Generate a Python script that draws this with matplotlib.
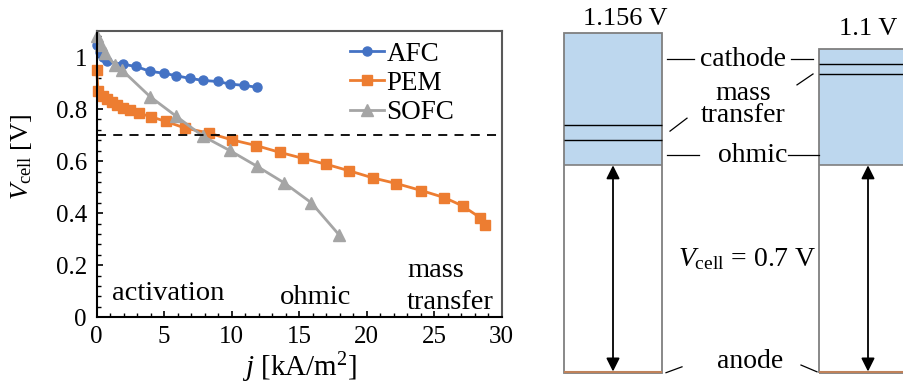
import numpy as np
import matplotlib
matplotlib.use("Agg")
import matplotlib.pyplot as plt
from matplotlib.ticker import MultipleLocator

plt.rcParams['font.family'] = ['Liberation Serif', 'DejaVu Serif']
plt.rcParams['mathtext.fontset'] = 'custom'
plt.rcParams['mathtext.rm'] = 'Liberation Serif'
plt.rcParams['mathtext.it'] = 'Liberation Serif:italic'

# polarization curves (j in kA/m2, V in volt)
afc_j = [0, 0.25, 0.5, 0.8, 1.95, 2.9, 3.95, 4.95, 5.9, 6.9, 7.9, 8.95, 9.9, 10.9, 11.85]
afc_v = [1.045, 1.02, 1.0, 0.983, 0.972, 0.964, 0.945, 0.938, 0.928, 0.918, 0.91, 0.906, 0.896, 0.891, 0.884]

pem_j = [0, 0.1, 0.45, 0.8, 1.1, 1.5, 1.95, 2.5, 3.1, 4.05, 5.1, 6.55, 8.3, 10.0, 11.8,
         13.55, 15.25, 17.0, 18.7, 20.5, 22.2, 24.05, 25.75, 27.1, 28.4, 28.75]
pem_v = [0.951, 0.868, 0.852, 0.838, 0.829, 0.817, 0.804, 0.795, 0.785, 0.770, 0.753, 0.727, 0.708, 0.682, 0.660,
         0.634, 0.611, 0.588, 0.563, 0.535, 0.514, 0.487, 0.460, 0.428, 0.383, 0.355]

sofc_j = [0, 0.3, 0.6, 1.35, 1.85, 3.95, 5.9, 7.9, 9.85, 11.85, 13.9, 15.9, 17.95]
sofc_v = [1.08, 1.045, 1.015, 0.970, 0.951, 0.848, 0.772, 0.695, 0.641, 0.581, 0.516, 0.440, 0.317]

v_operating = 0.7

# loss breakdown at 0.7 V, bottom to top: anode, cell voltage, ohmic, mass transfer, cathode
left_stack = [0.006, 0.7, 0.086, 0.050, 0.314]
right_stack = [0.006, 0.7, 0.309, 0.034, 0.051]
ocv_labels = ['1.156 V', '1.1 V']

blue = '#4472C4'
orange = '#ED7D31'
grey = '#A5A5A5'
light_blue = '#BDD7EE'
brown = '#C0825A'

fig = plt.figure(figsize=(9.04, 3.84), dpi=100)

# ---------------- left: polarization curves ----------------
ax = fig.add_axes([96.7/904, 1 - 317.3/384, 405/904, 286.3/384])
ax.plot(afc_j, afc_v, '-o', color=blue, lw=2, ms=6.5, label='AFC', clip_on=False)
ax.plot(pem_j, pem_v, '-s', color=orange, lw=2, ms=7, label='PEM', clip_on=False)
ax.plot(sofc_j, sofc_v, '-^', color=grey, lw=2, ms=8, label='SOFC', clip_on=False)
ax.axhline(v_operating, color='black', lw=1.3, ls=(0, (5, 4)))

ax.set_xlim(0, 30)
ax.set_ylim(0, 1.1)
ax.set_xticks([0, 5, 10, 15, 20, 25, 30])
ax.set_yticks([0, 0.2, 0.4, 0.6, 0.8, 1.0])
ax.set_yticklabels(['0', '0.2', '0.4', '0.6', '0.8', '1'])
ax.xaxis.set_minor_locator(MultipleLocator(1))
ax.yaxis.set_minor_locator(MultipleLocator(0.04))
ax.tick_params(which='both', direction='in', top=False, right=False, labelsize=18)
ax.tick_params(which='major', length=4.5, width=1.2)
ax.tick_params(which='minor', length=3, width=1)
ax.tick_params(axis='x', pad=6)
ax.tick_params(axis='y', pad=7)
for s in ['left', 'bottom']:
    ax.spines[s].set_color('black')
    ax.spines[s].set_linewidth(1.5)
for s in ['top', 'right']:
    ax.spines[s].set_color('#595959')
    ax.spines[s].set_linewidth(1.5)

ax.set_xlabel('$j$ [kA/m$^2$]', fontsize=21, labelpad=2)
ax.set_ylabel('$V_\\mathrm{cell}$ [V]', fontsize=19)
ax.yaxis.set_label_coords(-0.155, 0.562)

ax.legend(loc='upper left', bbox_to_anchor=(0.625, 0.962), frameon=False, fontsize=19.5,
          handlelength=1.25, handletextpad=0.1, labelspacing=0.15, borderpad=0, borderaxespad=0)

ax.text(1.13, 0.067, 'activation', fontsize=20.5)
ax.text(13.6, 0.051, 'ohmic', fontsize=20.5)
ax.text(23.0, 0.156, 'mass', fontsize=20.5)
ax.text(23.0, 0.031, 'transfer', fontsize=20.5)

# ---------------- right: loss breakdown bars ----------------
ax2 = fig.add_axes([540/904, 0, 364/904, 1])
ax2.set_xlim(540, 904)
ax2.set_ylim(-(384 - 373.3)/294.6, 373.3/294.6)
ax2.axis('off')

bar_x = [613, 868]
bar_w = 98
label_pos = [(625, 1.182), (868, 1.148)]
seg_colors = [brown, 'white', light_blue, light_blue, light_blue]
for xc, stack, lab, pos in zip(bar_x, [left_stack, right_stack], ocv_labels, label_pos):
    bottoms = np.concatenate([[0], np.cumsum(stack)[:-1]])
    ax2.bar([xc]*len(stack), stack, bottom=bottoms, width=bar_w, color=seg_colors,
            edgecolor='none')
    total = sum(stack)
    ax2.bar(xc, total, width=bar_w, fill=False, edgecolor='#7f7f7f', lw=1.3)
    ax2.hlines(bottoms[2], xc - bar_w/2, xc + bar_w/2, color='#7f7f7f', lw=1.2)
    ax2.hlines([bottoms[3], bottoms[4]], xc - bar_w/2, xc + bar_w/2, color='black', lw=1)
    ax2.hlines(stack[0], xc - bar_w/2, xc + bar_w/2, color=brown, lw=1.5)
    ax2.annotate('', xy=(xc, stack[0]), xytext=(xc, bottoms[2]),
                 arrowprops=dict(arrowstyle='<|-|>', color='black', lw=1.3,
                                 mutation_scale=20, shrinkA=0, shrinkB=0))
    ax2.text(pos[0], pos[1], lab, ha='center', va='baseline', fontsize=19)

# loss labels with leader lines
ax2.text(743, 1.066, 'cathode', ha='center', va='center', fontsize=20)
ax2.text(743, 0.912, 'mass\ntransfer', ha='center', va='center', fontsize=20, linespacing=0.85)
ax2.text(753, 0.741, 'ohmic', ha='center', va='center', fontsize=20)
ax2.text(747, 0.388, '$V_\\mathrm{cell}$ = 0.7 V', ha='center', va='center', fontsize=20)
ax2.text(750, 0.040, 'anode', ha='center', va='center', fontsize=20)

lw_lead = 0.9
ax2.plot([667, 694], [1.066, 1.066], color='black', lw=lw_lead)
ax2.plot([791, 813], [1.066, 1.066], color='black', lw=lw_lead)
ax2.plot([670, 687], [0.822, 0.866], color='black', lw=lw_lead)
ax2.plot([797, 813], [0.979, 1.016], color='black', lw=lw_lead)
ax2.plot([667, 699], [0.741, 0.741], color='black', lw=lw_lead)
ax2.plot([788, 819], [0.741, 0.741], color='black', lw=lw_lead)
ax2.plot([666, 682], [0.002, 0.022], color='black', lw=lw_lead)
ax2.plot([801, 817], [0.028, 0.005], color='black', lw=lw_lead)

fig.savefig('out.png', dpi=100)
